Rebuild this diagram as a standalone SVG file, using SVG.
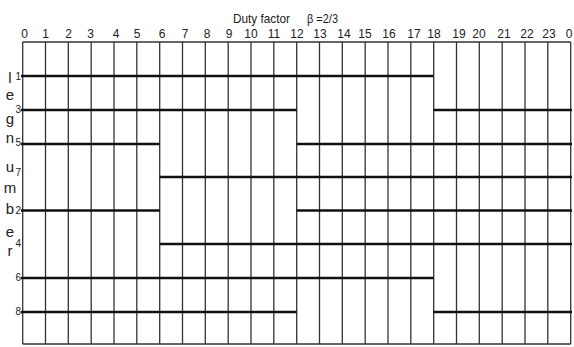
<svg xmlns="http://www.w3.org/2000/svg" width="574" height="347" viewBox="0 0 574 347">
<style>
.t{font-family:"Liberation Sans",Arial,sans-serif;fill:#222}
.h{font-size:12px;text-anchor:middle}
.r{font-size:10px;text-anchor:end}
.l{font-size:15px;text-anchor:middle}
.v{stroke:#333;stroke-width:1.3}
.b{stroke:#111;stroke-width:2.6}
</style>
<rect width="574" height="347" fill="#fff"/>
<g id="title">
<text class="t" x="233" y="23" font-size="13" textLength="57" lengthAdjust="spacingAndGlyphs">Duty factor</text>
<text class="t" x="307" y="23" font-size="13" textLength="31" lengthAdjust="spacingAndGlyphs">β =2/3</text>
</g>
<g id="hours">
<text class="t h" x="24.5" y="38">0</text><text class="t h" x="45.5" y="38">1</text><text class="t h" x="68.5" y="38">2</text><text class="t h" x="90.5" y="38">3</text><text class="t h" x="116" y="38">4</text><text class="t h" x="137" y="38">5</text><text class="t h" x="162" y="38">6</text><text class="t h" x="185" y="38">7</text><text class="t h" x="207" y="38">8</text><text class="t h" x="229" y="38">9</text><text class="t h" x="251" y="38">10</text><text class="t h" x="274" y="38">11</text><text class="t h" x="297" y="38">12</text><text class="t h" x="320" y="38">13</text><text class="t h" x="344" y="38">14</text><text class="t h" x="365" y="38">15</text><text class="t h" x="389" y="38">16</text><text class="t h" x="414" y="38">17</text><text class="t h" x="434" y="38">18</text><text class="t h" x="459" y="38">19</text><text class="t h" x="479" y="38">20</text><text class="t h" x="504" y="38">21</text><text class="t h" x="527" y="38">22</text><text class="t h" x="549" y="38">23</text><text class="t h" x="569" y="38">0</text>
</g>
<g id="axis-label">
<text class="t l" x="10" y="83">l</text><text class="t l" x="10" y="100">e</text><text class="t l" x="10" y="124">g</text><text class="t l" x="10" y="143">n</text><text class="t l" x="10" y="172">u</text><text class="t l" x="10" y="193">m</text><text class="t l" x="10" y="214">b</text><text class="t l" x="10" y="237">e</text><text class="t l" x="10" y="256">r</text>
</g>
<g id="leg-numbers">
<text class="t r" x="21" y="80">1</text><text class="t r" x="21" y="113">3</text><text class="t r" x="21" y="146">5</text><text class="t r" x="21" y="176">7</text><text class="t r" x="21" y="214">2</text><text class="t r" x="21" y="247">4</text><text class="t r" x="21" y="281">6</text><text class="t r" x="21" y="315">8</text>
</g>
<g id="grid">
<line class="v" x1="22.7" y1="42" x2="570.7" y2="42"/>
<line class="v" x1="22.7" y1="344" x2="570.7" y2="344"/>
<line class="v" x1="22.7" y1="42" x2="22.7" y2="344"/>
<line class="v" x1="45.5" y1="42" x2="45.5" y2="344"/>
<line class="v" x1="68.3" y1="42" x2="68.3" y2="344"/>
<line class="v" x1="91.2" y1="42" x2="91.2" y2="344"/>
<line class="v" x1="114" y1="42" x2="114" y2="344"/>
<line class="v" x1="136.8" y1="42" x2="136.8" y2="344"/>
<line class="v" x1="159.7" y1="42" x2="159.7" y2="344"/>
<line class="v" x1="182.5" y1="42" x2="182.5" y2="344"/>
<line class="v" x1="205.3" y1="42" x2="205.3" y2="344"/>
<line class="v" x1="228.2" y1="42" x2="228.2" y2="344"/>
<line class="v" x1="251" y1="42" x2="251" y2="344"/>
<line class="v" x1="273.8" y1="42" x2="273.8" y2="344"/>
<line class="v" x1="296.7" y1="42" x2="296.7" y2="344"/>
<line class="v" x1="319.5" y1="42" x2="319.5" y2="344"/>
<line class="v" x1="342.3" y1="42" x2="342.3" y2="344"/>
<line class="v" x1="365.2" y1="42" x2="365.2" y2="344"/>
<line class="v" x1="388" y1="42" x2="388" y2="344"/>
<line class="v" x1="410.8" y1="42" x2="410.8" y2="344"/>
<line class="v" x1="433.7" y1="42" x2="433.7" y2="344"/>
<line class="v" x1="456.5" y1="42" x2="456.5" y2="344"/>
<line class="v" x1="479.3" y1="42" x2="479.3" y2="344"/>
<line class="v" x1="502.2" y1="42" x2="502.2" y2="344"/>
<line class="v" x1="525" y1="42" x2="525" y2="344"/>
<line class="v" x1="547.8" y1="42" x2="547.8" y2="344"/>
<line class="v" x1="570.7" y1="42" x2="570.7" y2="344"/>
</g>
<g id="connectors">
<line class="b" x1="21" y1="76" x2="433.7" y2="76"/>
<line class="b" x1="21" y1="110" x2="296.7" y2="110"/>
<line class="b" x1="433.7" y1="110" x2="572" y2="110"/>
<line class="b" x1="21" y1="144" x2="159.7" y2="144"/>
<line class="b" x1="296.7" y1="144" x2="572" y2="144"/>
<line class="b" x1="159.7" y1="177" x2="572" y2="177"/>
<line class="b" x1="21" y1="210.5" x2="159.7" y2="210.5"/>
<line class="b" x1="296.7" y1="210.5" x2="572" y2="210.5"/>
<line class="b" x1="159.7" y1="244" x2="572" y2="244"/>
<line class="b" x1="21" y1="278" x2="433.7" y2="278"/>
<line class="b" x1="21" y1="312" x2="296.7" y2="312"/>
<line class="b" x1="433.7" y1="312" x2="572" y2="312"/>
</g>
</svg>
